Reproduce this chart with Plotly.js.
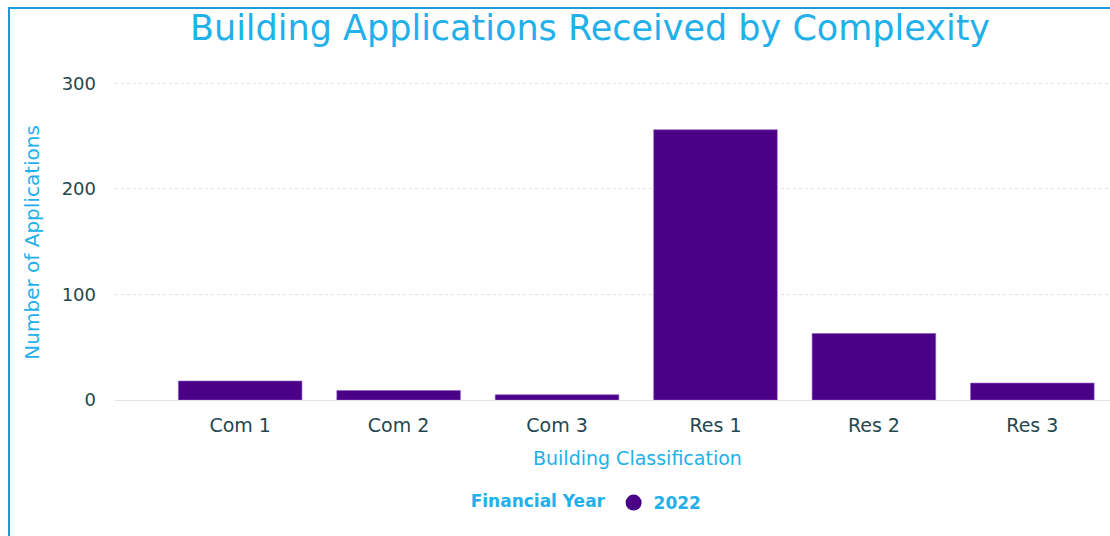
<!DOCTYPE html>
<html>
<head>
<meta charset="utf-8">
<script src="https://cdn.plot.ly/plotly-3.0.1.min.js"></script>
<style>
  html, body { margin: 0; padding: 0; background: #fff; }
  #wrap { position: relative; width: 1110px; height: 536px; overflow: hidden; }
  #chart { width: 1110px; height: 536px; }
  #frame { position: absolute; left: 8px; top: 7px; width: 1200px; height: 700px;
           border-left: 2px solid #1a9ad6; border-top: 2px solid #1a9ad6; pointer-events: none; }
</style>
</head>
<body>
<div id="wrap">
  <div id="chart"></div>
  <div id="frame"></div>
</div>
<script>
const categories = ["Com 1", "Com 2", "Com 3", "Res 1", "Res 2", "Res 3"];
const values2022 = [18, 9, 5, 256, 63, 16];
const seriesName = "2022";
const yTicks = [0, 100, 200, 300];

const barColor = "#4b0088";
const blue = "#22b0ea";
const tickColor = "#24474f";
const fontFam = "DejaVu Sans, sans-serif";

const traces = [
  {
    type: "bar",
    x: categories,
    y: values2022,
    name: seriesName,
    showlegend: false,
    marker: { color: barColor, line: { color: "#8a5cc4", width: 0.6 } },
    hoverinfo: "x+y"
  },
  {
    type: "scatter",
    mode: "markers",
    x: [null],
    y: [null],
    name: seriesName,
    showlegend: true,
    marker: { color: barColor, size: 16, symbol: "circle" }
  }
];

const layout = {
  width: 1110,
  height: 536,
  margin: { l: 115, r: 0, t: 78, b: 136 },
  paper_bgcolor: "#fff",
  plot_bgcolor: "#fff",
  bargap: 0.22,
  font: { family: fontFam, color: tickColor },
  title: {
    text: "Building Applications Received by Complexity",
    font: { family: fontFam, size: 35, color: blue },
    x: 0.4774, xref: "paper", xanchor: "center",
    y: 0.948, yref: "container", yanchor: "middle"
  },
  xaxis: {
    type: "category",
    range: [-0.79, 5.49],
    showgrid: false,
    zeroline: false,
    showline: false,
    ticks: "",
    tickfont: { size: 19, color: tickColor, family: fontFam },
    ticklabelstandoff: 12,
    fixedrange: true
  },
  yaxis: {
    range: [0, 305],
    tickvals: yTicks,
    ticktext: yTicks.map(String),
    showgrid: true,
    gridcolor: "#e0e0e0",
    gridwidth: 1,
    griddash: "dot",
    zeroline: true,
    zerolinecolor: "#e4e4e4",
    zerolinewidth: 1,
    showline: false,
    ticks: "",
    tickfont: { size: 18, color: tickColor, family: fontFam },
    ticklabelstandoff: 18,
    fixedrange: true
  },
  showlegend: true,
  legend: {
    orientation: "h",
    x: 0.475, xanchor: "center",
    y: -0.32, yanchor: "middle",
    title: { text: "<b>Financial Year</b>", font: { size: 17, color: blue, family: fontFam }, side: "left" },
    font: { size: 17, color: blue, family: fontFam, weight: "bold" },
    itemwidth: 30
  },
  annotations: [
    {
      text: "Number of Applications",
      xref: "paper", yref: "paper",
      x: -0.083, y: 0.49,
      xanchor: "center", yanchor: "middle",
      textangle: -90,
      showarrow: false,
      font: { size: 20, color: blue, family: fontFam }
    },
    {
      text: "Building Classification",
      xref: "paper", yref: "paper",
      x: 0.525, y: -0.18,
      xanchor: "center", yanchor: "middle",
      showarrow: false,
      font: { size: 19, color: blue, family: fontFam }
    }
  ]
};

Plotly.newPlot("chart", traces, layout, { displayModeBar: false, staticPlot: true });
</script>
</body>
</html>
